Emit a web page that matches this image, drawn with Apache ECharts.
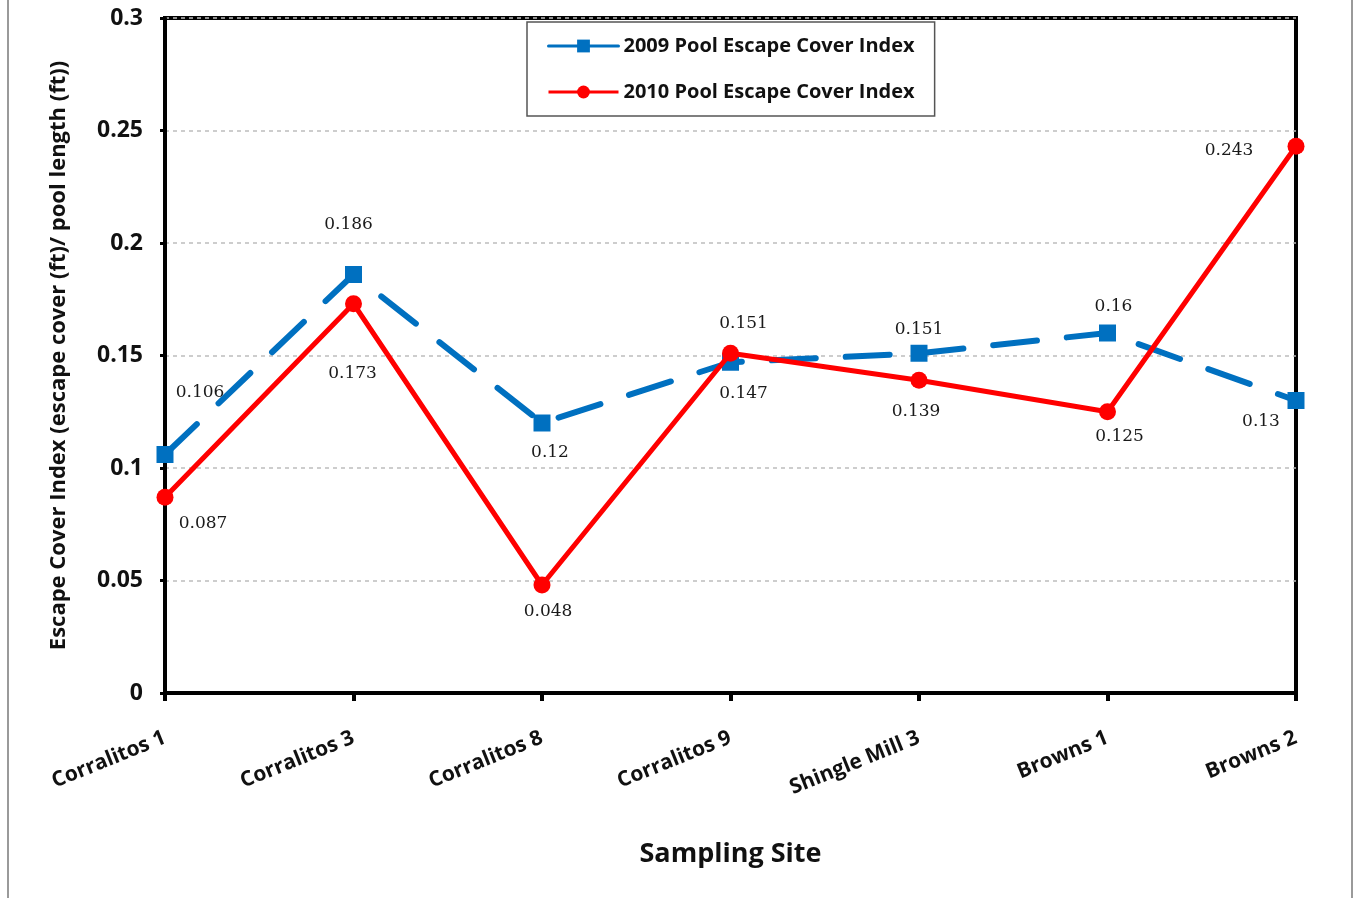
<!DOCTYPE html>
<html><head><meta charset="utf-8">
<script src="https://cdn.jsdelivr.net/npm/echarts@6/dist/echarts.min.js"></script>
<style>html,body{margin:0;padding:0;background:#fff}#c{width:1356px;height:898px}</style>
</head><body><div id="c"></div>
<script>
const categories = ['Corralitos 1','Corralitos 3','Corralitos 8','Corralitos 9','Shingle Mill 3','Browns 1','Browns 2'];
const values2009 = [0.106, 0.186, 0.12, 0.147, 0.151, 0.16, 0.13];
const values2010 = [0.087, 0.173, 0.048, 0.151, 0.139, 0.125, 0.243];
const yTicks = [0, 0.05, 0.1, 0.15, 0.2, 0.25, 0.3];
const seriesNames = ['2009 Pool Escape Cover Index', '2010 Pool Escape Cover Index'];
// label offsets (layout only)
const off2009 = [[35,-62],[-5,-50],[8,30],[13,31],[0,-24],[6,-26],[-35,21]];
const off2010 = [[38,26],[-1,70],[6,27],[13,-30],[-3,31],[12,25],[-67,4]];

const labelFont = {fontFamily:'DejaVu Serif', fontSize:17, color:'#1a1a1a'};
function mk(vals, offs){
  return vals.map((v,i)=>({value:v, label:{show:true, position:'inside', offset:offs[i], formatter:String(v), ...labelFont}}));
}
const chart = echarts.init(document.getElementById('c'));
const sans = 'Open Sans';
chart.setOption({
  animation:false,
  backgroundColor:'#fff',
  graphic:[{type:'rect', shape:{x:8,y:-5,width:1344,height:910}, style:{fill:'none', stroke:'#9a9a9a', lineWidth:2}, z:-1}],
  grid:{left:165, right:60, top:18, bottom:205, show:true, borderColor:'#000', borderWidth:4, backgroundColor:'transparent'},
  legend:{
    orient:'vertical', left:527, top:22,
    padding:[11,20,11,20], itemGap:20,
    backgroundColor:'#fff', borderColor:'#555', borderWidth:1.5,
    itemWidth:70, itemHeight:16,
    textStyle:{fontFamily:sans, fontSize:20, fontWeight:'bold', color:'#111', lineHeight:26},
    data:[
      {name:seriesNames[0], lineStyle:{type:'solid', width:3}},
      {name:seriesNames[1], lineStyle:{type:'solid', width:3}}
    ]
  },
  xAxis:{
    type:'category', data:categories, boundaryGap:false,
    name:'Sampling Site', nameLocation:'middle', nameGap:148,
    nameTextStyle:{fontFamily:sans, fontSize:27, fontWeight:'bold', color:'#111'},
    axisLine:{lineStyle:{color:'#000', width:4}},
    axisTick:{show:true, length:8, lineStyle:{color:'#000', width:4}, alignWithLabel:true},
    axisLabel:{rotate:22, margin:44, fontFamily:sans, fontSize:21, fontWeight:'bold', color:'#111', interval:0},
    splitLine:{show:false}
  },
  yAxis:{
    type:'value', min:yTicks[0], max:yTicks[yTicks.length-1], interval:0.05,
    name:'Escape Cover Index (escape cover (ft)/ pool length (ft))',
    nameLocation:'middle', nameGap:95, nameRotate:90,
    nameTextStyle:{fontFamily:sans, fontSize:22, fontWeight:'bold', color:'#111'},
    axisLine:{show:true, lineStyle:{color:'#000', width:4}},
    axisTick:{show:true, length:5, lineStyle:{color:'#000', width:3}},
    axisLabel:{margin:22, fontFamily:sans, fontSize:23, fontWeight:'bold', color:'#111',
      formatter:v=>String(+v.toFixed(2))},
    splitLine:{show:true, lineStyle:{color:'#bdbdbd', width:1.5, type:[4,4]}}
  },
  series:[
    {name:seriesNames[0], type:'line', data:mk(values2009, off2009),
     symbol:'rect', symbolSize:17, color:'#0070C0',
     lineStyle:{color:'#0070C0', width:6, type:[44,30], cap:'round'},
     itemStyle:{color:'#0070C0'}, z:3},
    {name:seriesNames[1], type:'line', data:mk(values2010, off2010),
     symbol:'circle', symbolSize:17, color:'#FF0000',
     lineStyle:{color:'#FF0000', width:5, type:'solid'},
     itemStyle:{color:'#FF0000'}, z:4}
  ]
});
</script></body></html>
